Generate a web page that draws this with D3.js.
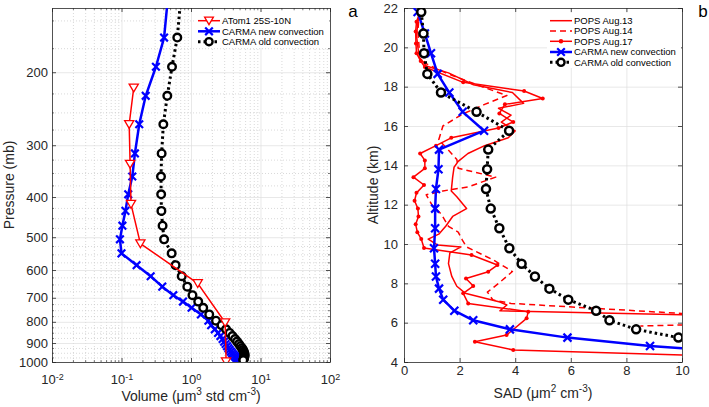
<!DOCTYPE html>
<html><head><meta charset="utf-8">
<script src="https://cdn.jsdelivr.net/npm/d3@7"></script>
<style>body{margin:0;background:#fff}svg{display:block;font-family:"Liberation Sans",Arial,Helvetica,sans-serif}</style>
</head><body><script>
// ---------- Panel a data ----------
const volTicks=[0.01,0.1,1,10,100];
const pTicks=[200,300,400,500,600,700,800,900,1000];
const atomP=[218,267,333,416,518,646,803,998];
const atomV=[0.15,0.129,0.133,0.137,0.187,1.25,3.1,3.2];
const carmaP=[130,165,194,228,267,314,357,394,432,469,506,547,584,621,658,690,715,740,768,795,815,834,851,866,880,893,905,916,926,935,944,952,959,966,972,977,982,986,990];
const carmaNewV=[0.47,0.41,0.313,0.223,0.18,0.156,0.143,0.125,0.114,0.103,0.095,0.1,0.165,0.263,0.386,0.557,0.767,1.02,1.39,1.78,1.95,2.2,2.45,2.65,2.85,3.0,3.15,3.3,3.45,3.6,3.75,3.9,4.05,4.2,4.35,4.5,4.6,4.7,4.8];
const carmaOldV=[0.72,0.635,0.533,0.456,0.4,0.378,0.37,0.372,0.375,0.39,0.41,0.527,0.6,0.735,0.885,1.05,1.27,1.5,1.83,2.29,2.75,3.2,3.6,3.95,4.3,4.6,4.9,5.15,5.4,5.6,5.75,5.85,5.9,5.9,5.85,5.8,5.75,5.7,5.65];
// ---------- Panel b data ----------
const sadTicks=[0,2,4,6,8,10];
const altTicks=[4,6,8,10,12,14,16,18,20,22];
const altLev=[21.8,20.7,19.7,18.65,17.7,16.72,15.76,14.8,13.8,12.8,11.8,10.8,9.78,9.0,8.35,7.73,7.17,6.61,6.12,5.66,5.24,4.81,4.4];
const newSAD=[0.49,0.75,0.97,1.21,1.63,2.11,2.88,1.26,1.24,1.15,1.12,1.12,1.08,1.12,1.15,1.26,1.41,1.81,2.49,3.81,5.88,8.85,13];
const oldSAD=[0.62,0.70,0.72,0.84,1.33,2.61,3.78,3.03,2.99,2.95,3.12,3.43,3.79,4.23,4.71,5.23,5.91,6.91,7.39,8.35,9.87,11.9,14];
const pops13=[[0.6,21.9],[0.5,21.3],[0.45,20.6],[0.5,20.0],[0.55,19.5],[0.8,19.05],[1.6,18.7],[2.5,18.1],[3.9,17.7],[4.3,17.15],[3.4,16.9],[3.85,16.55],[3.5,16.2],[4.0,15.75],[3.75,15.4],[2.9,15.0],[2.3,14.6],[1.95,14.2],[1.8,13.9],[1.75,13.4],[1.7,12.7],[1.9,12.4],[2.25,11.8],[1.75,11.4],[1.5,10.9],[1.25,10.5],[0.87,10.25],[1.2,9.95],[2.05,9.85],[1.65,9.55],[1.6,9.0],[1.72,8.35],[1.9,7.85],[2.2,7.5],[3.45,7.05],[3.7,6.9],[3.45,6.6],[20,6.09]];
const pops14=[[0.55,21.8],[0.5,20.8],[0.55,19.9],[0.75,19.2],[1.5,18.7],[2.8,18.0],[3.7,17.55],[2.9,17.1],[2.1,16.6],[1.4,16.0],[1.25,15.3],[1.55,14.85],[1.9,14.3],[1.95,13.85],[3.3,13.4],[2.3,12.9],[1.4,12.7],[0.8,12.5],[1.0,12.0],[1.35,11.5],[1.6,10.9],[1.95,10.6],[2.1,10.2],[2.25,9.85],[3.2,9.2],[3.9,8.6],[3.4,8.0],[3.0,7.55],[3.2,7.15],[3.85,6.98],[15,6.05],[8.5,5.83]];
const pops17=[[0.55,21.7],[0.45,21.3],[0.42,20.8],[0.43,20.2],[0.45,19.7],[0.6,19.3],[0.75,19.0],[2.13,18.22],[4.32,17.78],[4.99,17.4],[3.63,17.1],[3.43,16.64],[3.93,16.2],[3.4,15.9],[1.7,15.4],[1.15,15.0],[0.58,14.6],[0.75,14.25],[0.75,13.85],[0.34,13.4],[0.72,13.0],[0.45,12.6],[0.38,12.2],[0.5,11.8],[0.52,11.4],[0.42,11.0],[0.48,10.6],[0.62,10.25],[0.72,9.8],[2.43,9.44],[3.36,8.93],[3.03,8.59],[2.23,8.25],[2.49,7.86],[2.13,7.49],[2.31,6.98],[4.47,6.56],[4.41,6.22],[3.69,5.37],[2.55,5.03],[3.93,4.61],[16,4.11]];

const W=709,H=407;
const RED='#ff0000',BLUE='#0000ff',BLK='#000000',AX='#262626';
const svg=d3.select('body').append('svg').attr('width',W).attr('height',H);
svg.append('rect').attr('width',W).attr('height',H).attr('fill','#fff');
const A={l:52,r:330,t:8,b:362}, B={l:404,r:682,t:8,b:362};
const xA=d3.scaleLog().domain([volTicks[0],volTicks[volTicks.length-1]]).range([A.l,A.r]);
const yA=d3.scaleLog().domain([140,1000]).range([A.t,A.b]);
const xB=d3.scaleLinear().domain([0,10]).range([B.l,B.r]);
const yB=d3.scaleLinear().domain([4,22]).range([B.b,B.t]);

const defs=svg.append('defs');
[['clipA',A],['clipB',B]].forEach(([id,P])=>defs.append('clipPath').attr('id',id).append('rect').attr('x',P.l).attr('y',P.t).attr('width',P.r-P.l).attr('height',P.b-P.t));

// minor values
const minorX=[];[-2,-1,0,1].forEach(e=>{for(let m=2;m<=9;m++)minorX.push(m*Math.pow(10,e));});
const minorY=[];for(let p=150;p<1000;p+=25){if(p%100!==0)minorY.push(p);}

function grid(P,xs,ys,xv,yv,color,dash){
  const gx=svg.append('g').attr('transform',`translate(0,${P.b})`).call(d3.axisBottom(xs).tickValues(xv).tickSize(-(P.b-P.t)).tickFormat(''));
  gx.select('.domain').remove();
  gx.selectAll('line').attr('stroke',color).attr('stroke-width',0.7).attr('stroke-dasharray',dash);
  const gy=svg.append('g').attr('transform',`translate(${P.l},0)`).call(d3.axisLeft(ys).tickValues(yv).tickSize(-(P.r-P.l)).tickFormat(''));
  gy.select('.domain').remove();
  gy.selectAll('line').attr('stroke',color).attr('stroke-width',0.7).attr('stroke-dasharray',dash);
}
grid(A,xA,yA,minorX,minorY,'#c8c8c8','1,2');
grid(A,xA,yA,volTicks.slice(1,-1),pTicks.slice(0,-1),'#dedede',null);
grid(B,xB,yB,sadTicks.slice(1,-1),altTicks.slice(1,-1),'#dedede',null);

function styleAxis(g){g.selectAll('.domain').attr('stroke',AX).attr('stroke-width',0.8);g.selectAll('line').attr('stroke',AX).attr('stroke-width',0.8);g.selectAll('text').attr('fill',AX).attr('font-size',13).attr('font-family','"Liberation Sans",Arial,sans-serif');}
function frame(P,xs,ys,xv,yv,xMinor,yMinor,xfmt,yfmt,xpad,ypad){
  const b=svg.append('g').attr('transform',`translate(0,${P.b})`).call(d3.axisBottom(xs).tickValues(xv).tickSizeInner(-4).tickSizeOuter(0).tickPadding(xpad).tickFormat(xfmt));
  const t=svg.append('g').attr('transform',`translate(0,${P.t})`).call(d3.axisTop(xs).tickValues(xv).tickSizeInner(-4).tickSizeOuter(0).tickFormat(''));
  const l=svg.append('g').attr('transform',`translate(${P.l},0)`).call(d3.axisLeft(ys).tickValues(yv).tickSizeInner(-4).tickSizeOuter(0).tickPadding(ypad).tickFormat(yfmt));
  const r=svg.append('g').attr('transform',`translate(${P.r},0)`).call(d3.axisRight(ys).tickValues(yv).tickSizeInner(-4).tickSizeOuter(0).tickFormat(''));
  [b,t,l,r].forEach(styleAxis);
  if(xMinor){
    svg.append('g').attr('transform',`translate(0,${P.b})`).call(d3.axisBottom(xs).tickValues(xMinor).tickSize(-2).tickFormat('')).call(g=>{g.select('.domain').remove();g.selectAll('line').attr('stroke',AX).attr('stroke-width',0.6);});
    svg.append('g').attr('transform',`translate(0,${P.t})`).call(d3.axisTop(xs).tickValues(xMinor).tickSize(-2).tickFormat('')).call(g=>{g.select('.domain').remove();g.selectAll('line').attr('stroke',AX).attr('stroke-width',0.6);});
  }
  if(yMinor){
    svg.append('g').attr('transform',`translate(${P.l},0)`).call(d3.axisLeft(ys).tickValues(yMinor).tickSize(-2).tickFormat('')).call(g=>{g.select('.domain').remove();g.selectAll('line').attr('stroke',AX).attr('stroke-width',0.6);});
    svg.append('g').attr('transform',`translate(${P.r},0)`).call(d3.axisRight(ys).tickValues(yMinor).tickSize(-2).tickFormat('')).call(g=>{g.select('.domain').remove();g.selectAll('line').attr('stroke',AX).attr('stroke-width',0.6);});
  }
  return b;
}
const bA=frame(A,xA,yA,volTicks,pTicks,minorX,minorY,d=>'10',d=>d,13,4);
bA.selectAll('.tick text').each(function(d){
  const t=d3.select(this);t.text('');
  t.append('tspan').text('10');
  t.append('tspan').attr('dy','-0.5em').attr('font-size',9).text(String(Math.round(Math.log10(d))));
});
frame(B,xB,yB,sadTicks,altTicks,null,null,d=>d,d=>d,4,6);

// ---------- marks ----------
function lineP(g,pts,xs,ys,color,w,dash){
  g.append('path').datum(pts).attr('fill','none').attr('stroke',color).attr('stroke-width',w)
   .attr('stroke-dasharray',dash).attr('stroke-linejoin','round')
   .attr('d',d3.line().x(d=>xs(d[0])).y(d=>ys(d[1])));
}
function xMarks(g,pts,xs,ys,s,color,w){
  g.selectAll(null).data(pts).enter().append('path')
   .attr('d',d=>{const x=xs(d[0]),y=ys(d[1]);return `M${x-s},${y-s}L${x+s},${y+s}M${x-s},${y+s}L${x+s},${y-s}`;})
   .attr('stroke',color).attr('stroke-width',w).attr('fill','none');
}
function oMarks(g,pts,xs,ys,r,color,w){
  g.selectAll(null).data(pts).enter().append('circle').attr('cx',d=>xs(d[0])).attr('cy',d=>ys(d[1]))
   .attr('r',r).attr('fill','#fff').attr('stroke',color).attr('stroke-width',w);
}
function triMarks(g,pts,xs,ys,s,color,w){
  g.selectAll(null).data(pts).enter().append('path')
   .attr('d',d=>{const x=xs(d[0]),y=ys(d[1]);return `M${x-s},${y-s*0.8}L${x+s},${y-s*0.8}L${x},${y+s*0.9}Z`;})
   .attr('fill','#fff').attr('stroke',color).attr('stroke-width',w);
}
function dotMarks(g,pts,xs,ys,r,color){
  g.selectAll(null).data(pts).enter().append('circle').attr('cx',d=>xs(d[0])).attr('cy',d=>ys(d[1])).attr('r',r).attr('fill',color);
}

const gA=svg.append('g').attr('clip-path','url(#clipA)');
const newA=carmaP.map((p,i)=>[carmaNewV[i],p]);
const oldA=carmaP.map((p,i)=>[carmaOldV[i],p]);
const atA=atomP.map((p,i)=>[atomV[i],p]);
lineP(gA,newA,xA,yA,BLUE,2.5,null);
xMarks(gA,newA,xA,yA,3.8,BLUE,2.2);
lineP(gA,oldA,xA,yA,BLK,3,'2.5,3');
oMarks(gA,oldA,xA,yA,3.8,BLK,2.4);
lineP(gA,atA,xA,yA,RED,1.5,null);
triMarks(gA,atA,xA,yA,4.6,RED,1.3);

const gB=svg.append('g').attr('clip-path','url(#clipB)');
lineP(gB,pops13,xB,yB,RED,1.5,null);
lineP(gB,pops14,xB,yB,RED,1.5,'6,4');
lineP(gB,pops17,xB,yB,RED,1.5,null);
dotMarks(gB,pops17,xB,yB,2,RED);
const newB=altLev.map((a,i)=>[newSAD[i],a]);
const oldB=altLev.map((a,i)=>[oldSAD[i],a]);
lineP(gB,newB,xB,yB,BLUE,2.5,null);
xMarks(gB,newB,xB,yB,4,BLUE,2.2);
lineP(gB,oldB,xB,yB,BLK,3,'2.5,3');
oMarks(gB,oldB,xB,yB,4,BLK,2.5);

// ---------- legends ----------
function legend(x0,y0,w,h,entries){
  svg.append('rect').attr('x',x0).attr('y',y0).attr('width',w).attr('height',h).attr('fill','#fff');
  entries.forEach(e=>{
    const y=e.y, lx0=x0+3, lx1=x0+25, mx=(lx0+lx1)/2;
    const g=svg.append('g');
    g.append('line').attr('x1',lx0).attr('x2',lx1).attr('y1',y).attr('y2',y).attr('stroke',e.c).attr('stroke-width',e.w).attr('stroke-dasharray',e.dash||null);
    const s=d3.scaleLinear();
    if(e.m==='tri')triMarks(g,[[mx,y]],s,s,4.4,e.c,1.3);
    if(e.m==='x')xMarks(g,[[mx,y]],s,s,3.8,e.c,2.2);
    if(e.m==='o')oMarks(g,[[mx,y]],s,s,3.6,e.c,2.4);
    if(e.m==='dot')dotMarks(g,[[mx,y]],s,s,2.2,e.c);
    g.append('text').attr('x',lx1+2).attr('y',y+3.3).attr('font-size',9.5).attr('fill','#000').text(e.t);
  });
}
legend(195,12,134,36,[
  {t:'ATom1 25S-10N',c:RED,w:1.5,m:'tri',y:20.7},
  {t:'CARMA new convection',c:BLUE,w:2.5,m:'x',y:31.3},
  {t:'CARMA old convection',c:BLK,w:3,m:'o',dash:'2.5,3',y:41.7}
]);
legend(547,13,134,55,[
  {t:'POPS Aug.13',c:RED,w:1.5,y:20.7},
  {t:'POPS Aug.14',c:RED,w:1.5,dash:'6,4',y:31},
  {t:'POPS Aug.17',c:RED,w:1.5,m:'dot',y:41.3},
  {t:'CARMA new convection',c:BLUE,w:2.5,m:'x',y:52},
  {t:'CARMA old convection',c:BLK,w:3,m:'o',dash:'2.5,3',y:62.3}
]);

// ---------- labels ----------
svg.append('text').attr('transform','translate(13.5,185) rotate(-90)').attr('text-anchor','middle').attr('font-size',14).attr('fill',AX).text('Pressure (mb)');
svg.append('text').attr('transform','translate(377.5,185) rotate(-90)').attr('text-anchor','middle').attr('font-size',14).attr('fill',AX).text('Altitude (km)');
function supLabel(x,y,parts){
  const t=svg.append('text').attr('x',x).attr('y',y).attr('text-anchor','middle').attr('font-size',14).attr('fill',AX);
  parts.forEach(p=>{
    if(p.sup){t.append('tspan').attr('dy',-6).attr('font-size',10).text(p.sup);}
    else{t.append('tspan').attr('dy',p.after?6:0).text(p.t);}
  });
}
supLabel(191,401,[{t:'Volume (\u03bcm'},{sup:'3'},{t:' std cm',after:true},{sup:'-3'},{t:')',after:true}]);
supLabel(543,398,[{t:'SAD (\u03bcm'},{sup:'2'},{t:' cm',after:true},{sup:'-3'},{t:')',after:true}]);
svg.append('text').attr('x',353).attr('y',17).attr('text-anchor','middle').attr('font-size',17).attr('fill','#000').text('a');
svg.append('text').attr('x',703).attr('y',17).attr('text-anchor','middle').attr('font-size',17).attr('fill','#000').text('b');
</script></body></html>
